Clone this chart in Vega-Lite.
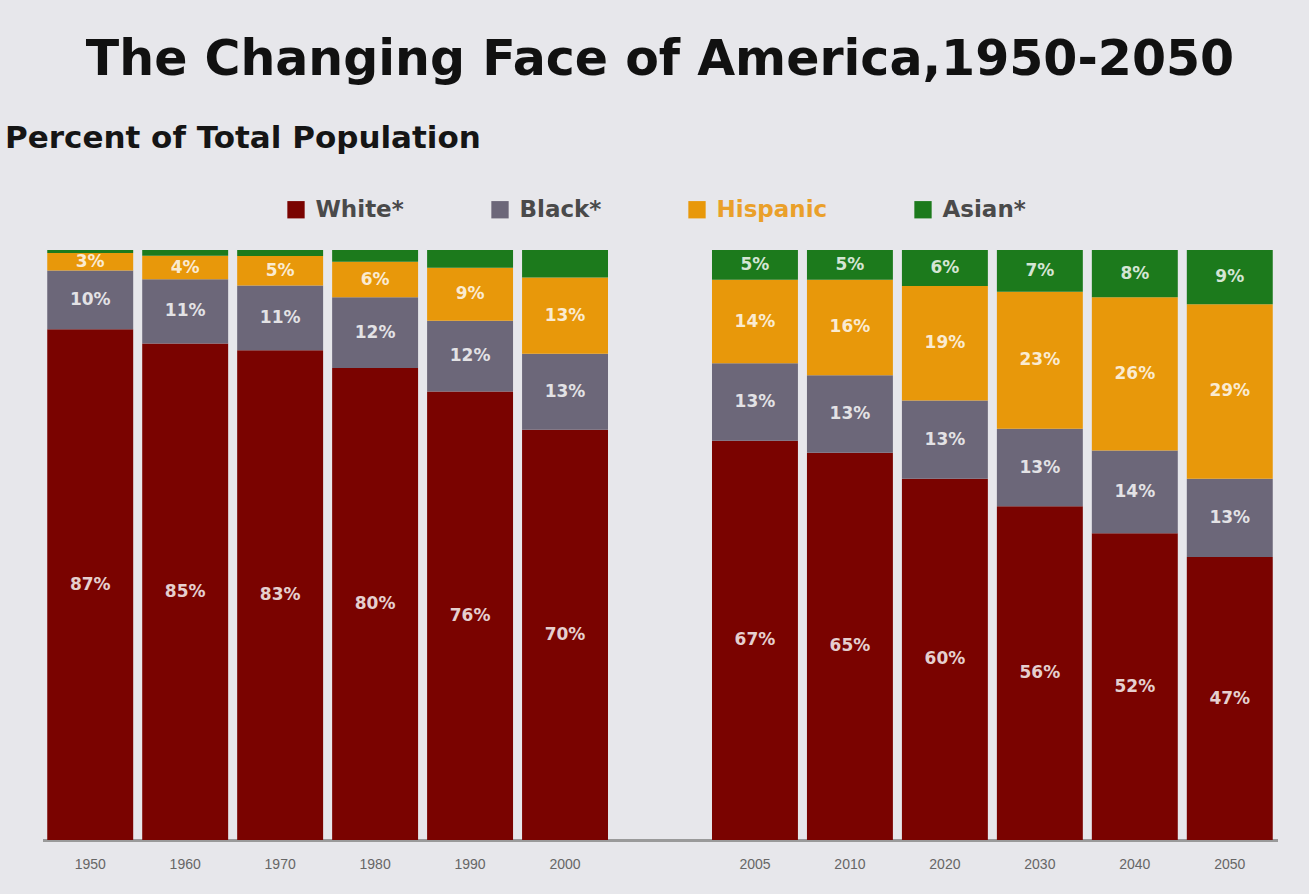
{
  "$schema": "https://vega.github.io/schema/vega-lite/v6.json",
  "width": 1235,
  "height": 590,
  "autosize": "none",
  "padding": {"left": 42.5, "top": 250, "right": 31.5, "bottom": 54},
  "background": "#e7e7eb",
  "config": {"view": {"stroke": null}},
  "title": {
    "text": "The Changing Face of America,1950-2050",
    "font": "DejaVu Sans",
    "fontSize": 49,
    "fontWeight": "bold",
    "color": "#111111",
    "anchor": "middle",
    "offset": 37
  },
  "data": {
    "values": [
      {"year": "1950", "group": "White*", "order": 1, "value": 87, "label": "87%"},
      {"year": "1950", "group": "Black*", "order": 2, "value": 10, "label": "10%"},
      {"year": "1950", "group": "Hispanic", "order": 3, "value": 3, "label": "3%"},
      {"year": "1950", "group": "Asian*", "order": 4, "value": 0.5, "label": null},
      {"year": "1960", "group": "White*", "order": 1, "value": 85, "label": "85%"},
      {"year": "1960", "group": "Black*", "order": 2, "value": 11, "label": "11%"},
      {"year": "1960", "group": "Hispanic", "order": 3, "value": 4, "label": "4%"},
      {"year": "1960", "group": "Asian*", "order": 4, "value": 1, "label": null},
      {"year": "1970", "group": "White*", "order": 1, "value": 83, "label": "83%"},
      {"year": "1970", "group": "Black*", "order": 2, "value": 11, "label": "11%"},
      {"year": "1970", "group": "Hispanic", "order": 3, "value": 5, "label": "5%"},
      {"year": "1970", "group": "Asian*", "order": 4, "value": 1, "label": null},
      {"year": "1980", "group": "White*", "order": 1, "value": 80, "label": "80%"},
      {"year": "1980", "group": "Black*", "order": 2, "value": 12, "label": "12%"},
      {"year": "1980", "group": "Hispanic", "order": 3, "value": 6, "label": "6%"},
      {"year": "1980", "group": "Asian*", "order": 4, "value": 2, "label": null},
      {"year": "1990", "group": "White*", "order": 1, "value": 76, "label": "76%"},
      {"year": "1990", "group": "Black*", "order": 2, "value": 12, "label": "12%"},
      {"year": "1990", "group": "Hispanic", "order": 3, "value": 9, "label": "9%"},
      {"year": "1990", "group": "Asian*", "order": 4, "value": 3, "label": null},
      {"year": "2000", "group": "White*", "order": 1, "value": 70, "label": "70%"},
      {"year": "2000", "group": "Black*", "order": 2, "value": 13, "label": "13%"},
      {"year": "2000", "group": "Hispanic", "order": 3, "value": 13, "label": "13%"},
      {"year": "2000", "group": "Asian*", "order": 4, "value": 4.7, "label": null},
      {"year": "2005", "group": "White*", "order": 1, "value": 67, "label": "67%"},
      {"year": "2005", "group": "Black*", "order": 2, "value": 13, "label": "13%"},
      {"year": "2005", "group": "Hispanic", "order": 3, "value": 14, "label": "14%"},
      {"year": "2005", "group": "Asian*", "order": 4, "value": 5, "label": "5%"},
      {"year": "2010", "group": "White*", "order": 1, "value": 65, "label": "65%"},
      {"year": "2010", "group": "Black*", "order": 2, "value": 13, "label": "13%"},
      {"year": "2010", "group": "Hispanic", "order": 3, "value": 16, "label": "16%"},
      {"year": "2010", "group": "Asian*", "order": 4, "value": 5, "label": "5%"},
      {"year": "2020", "group": "White*", "order": 1, "value": 60, "label": "60%"},
      {"year": "2020", "group": "Black*", "order": 2, "value": 13, "label": "13%"},
      {"year": "2020", "group": "Hispanic", "order": 3, "value": 19, "label": "19%"},
      {"year": "2020", "group": "Asian*", "order": 4, "value": 6, "label": "6%"},
      {"year": "2030", "group": "White*", "order": 1, "value": 56, "label": "56%"},
      {"year": "2030", "group": "Black*", "order": 2, "value": 13, "label": "13%"},
      {"year": "2030", "group": "Hispanic", "order": 3, "value": 23, "label": "23%"},
      {"year": "2030", "group": "Asian*", "order": 4, "value": 7, "label": "7%"},
      {"year": "2040", "group": "White*", "order": 1, "value": 52, "label": "52%"},
      {"year": "2040", "group": "Black*", "order": 2, "value": 14, "label": "14%"},
      {"year": "2040", "group": "Hispanic", "order": 3, "value": 26, "label": "26%"},
      {"year": "2040", "group": "Asian*", "order": 4, "value": 8, "label": "8%"},
      {"year": "2050", "group": "White*", "order": 1, "value": 47, "label": "47%"},
      {"year": "2050", "group": "Black*", "order": 2, "value": 13, "label": "13%"},
      {"year": "2050", "group": "Hispanic", "order": 3, "value": 29, "label": "29%"},
      {"year": "2050", "group": "Asian*", "order": 4, "value": 9, "label": "9%"}
    ]
  },
  "transform": [
    {"stack": "value", "groupby": ["year"], "offset": "normalize", "sort": [{"field": "order", "order": "ascending"}], "as": ["y0", "y1"]}
  ],
  "encoding": {
    "x": {
      "field": "year",
      "type": "nominal",
      "sort": null,
      "scale": {"domain": ["1950", "1960", "1970", "1980", "1990", "2000", " ", "2005", "2010", "2020", "2030", "2040", "2050"], "paddingInner": 0.095, "paddingOuter": 0.05},
      "axis": {
        "title": null,
        "labelAngle": 0,
        "ticks": false,
        "domainColor": "#9a9a9a",
        "domainWidth": 3,
        "labelColor": "#666666",
        "labelFont": "Liberation Sans",
        "labelFontSize": 14,
        "labelPadding": 17
      }
    }
  },
  "layer": [
    {
      "mark": {"type": "bar"},
      "encoding": {
        "y": {
          "field": "y0",
          "type": "quantitative",
          "scale": {"domain": [0, 1]},
          "axis": {
            "labels": false,
            "ticks": false,
            "domain": false,
            "grid": false,
            "title": "Percent of Total Population",
            "titleAngle": 0,
            "titleAlign": "left",
            "titleBaseline": "alphabetic",
            "titleX": -38,
            "titleY": -103,
            "titleFont": "DejaVu Sans",
            "titleFontSize": 31,
            "titleFontWeight": "bold",
            "titleColor": "#151515"
          }
        },
        "y2": {"field": "y1"},
        "color": {
          "field": "group",
          "type": "nominal",
          "scale": {
            "domain": ["White*", "Black*", "Hispanic", "Asian*"],
            "range": ["#7a0300", "#6c6779", "#e8980a", "#1c7a1c"]
          },
          "legend": {
            "title": null,
            "orient": "none",
            "direction": "horizontal",
            "legendX": 242,
            "legendY": -52,
            "symbolType": "square",
            "symbolSize": 300,
            "symbolStrokeWidth": 0,
            "labelFont": "DejaVu Sans",
            "labelFontSize": 23,
            "labelFontWeight": "bold",
            "labelColor": "#4a4a4a",
            "labelOffset": 8,
            "columnPadding": 84,
            "labelLimit": 300,
            "encode": {
              "labels": {
                "update": {
                  "fill": {"signal": "datum.label === 'Hispanic' ? '#eaa02a' : '#4a4a4a'"}
                }
              }
            }
          }
        }
      }
    },
    {
      "transform": [
        {"filter": "isValid(datum.label)"},
        {"fold": ["y0", "y1"], "as": ["edge", "pos"]},
        {"aggregate": [{"op": "mean", "field": "pos", "as": "mid"}], "groupby": ["year", "group", "label"]}
      ],
      "mark": {"type": "text", "font": "DejaVu Sans", "fontSize": 17, "fontWeight": "bold", "fill": "#ffffff", "fillOpacity": 0.82, "baseline": "middle"},
      "encoding": {
        "y": {"field": "mid", "type": "quantitative"},
        "text": {"field": "label"}
      }
    }
  ]
}
